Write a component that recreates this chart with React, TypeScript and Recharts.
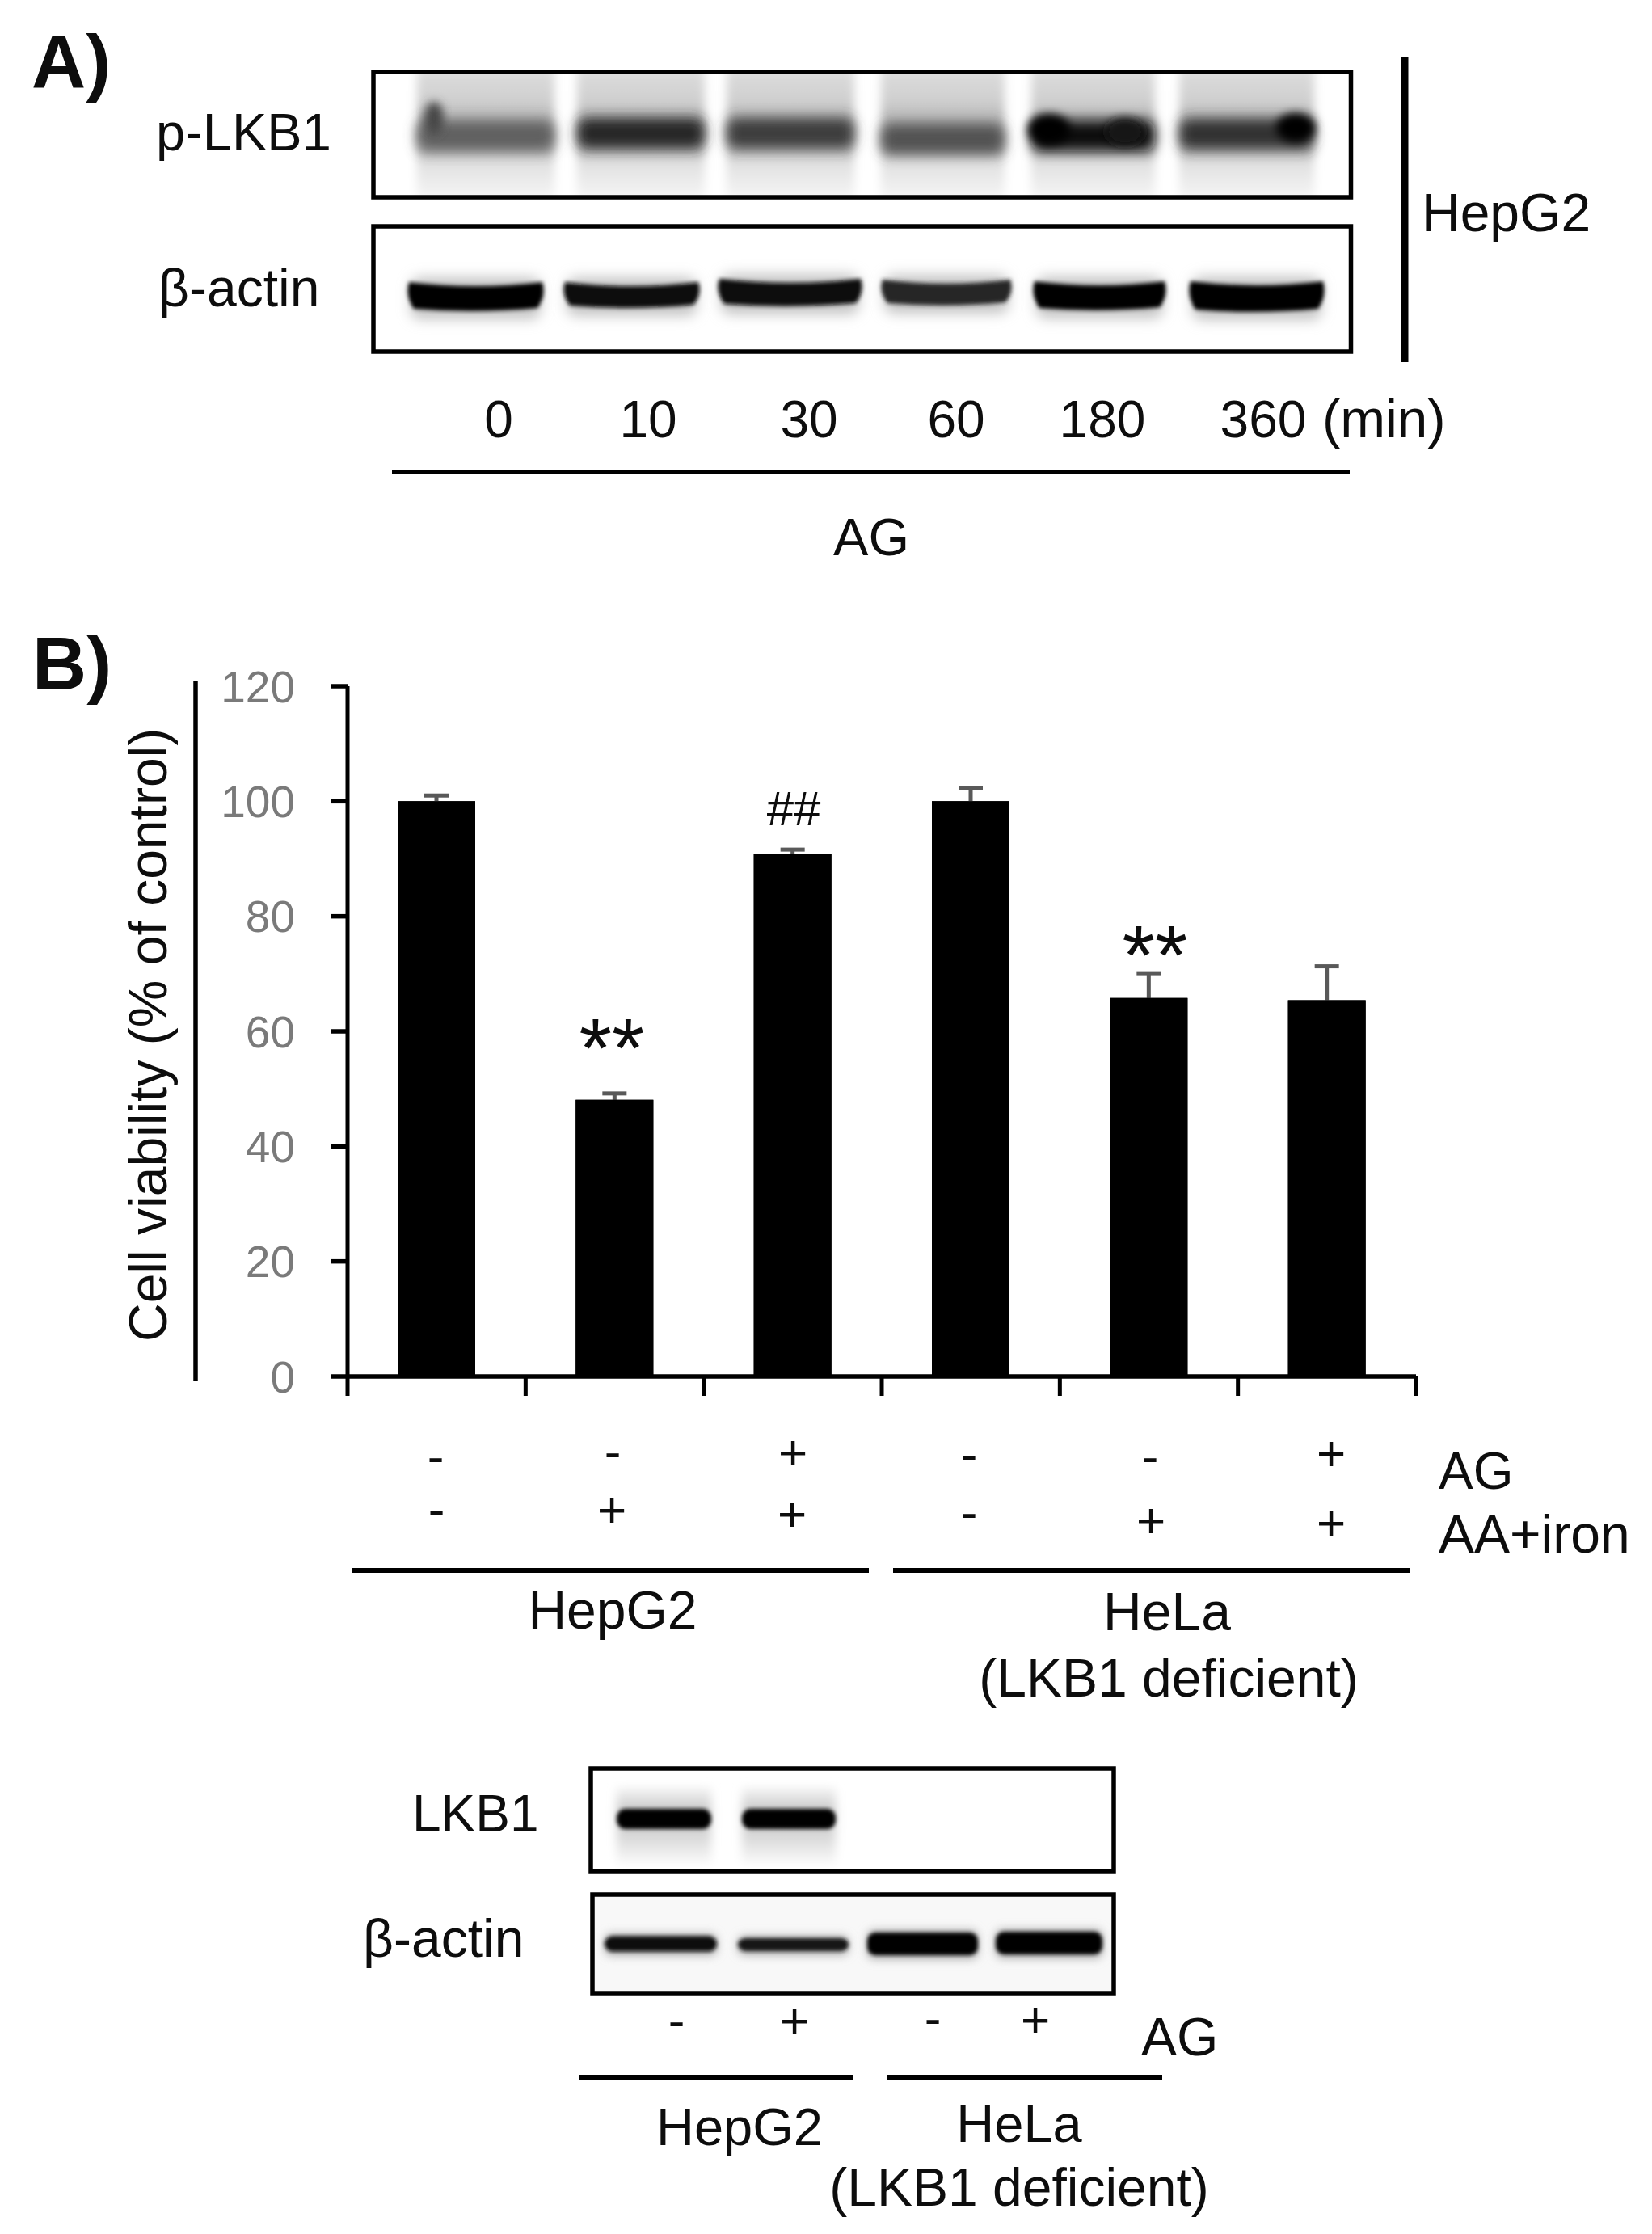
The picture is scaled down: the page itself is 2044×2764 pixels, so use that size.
import React from "react";
import { BarChart, Bar, XAxis, YAxis, ErrorBar } from "recharts";

const FONT = "'Liberation Sans', Arial, sans-serif";
const INK = "#0d0d0d";

// ---- Panel B values
const groups = ["HepG2 -/-", "HepG2 -/+", "HepG2 +/+", "HeLa -/-", "HeLa -/+", "HeLa +/+"];
const viability = [100, 48.1, 90.9, 100, 65.8, 65.4];
const errorUp = [1, 1.1, 0.7, 2.3, 4.3, 5.9];
const yTicks = [0, 20, 40, 60, 80, 100, 120];
const boundaryTicks = [0, 1, 2, 3, 4, 5, 6];
const ag = ["-", "-", "+", "-", "-", "+"];
const aaIron = ["-", "+", "+", "-", "+", "+"];

const chartData = groups.map((g, i) => ({
  group: g,
  pos: i + 0.5,
  viability: viability[i],
  err: errorUp[i],
}));

// ---- Blot band intensities (0..1)
const pLkb1Levels = [0.62, 0.85, 0.76, 0.68, 0.95, 0.8];
const actinALevels = [1, 0.97, 0.97, 0.85, 0.98, 1];
const lkb1Levels = [1, 1];
const actinBLevels = [0.95, 0.9, 1, 1];

// ---- Layout of the drawn blots
const pLkb1Lanes = [[516, 686, 168], [714, 872, 165], [899, 1057, 165], [1090, 1243, 172], [1276, 1429, 168], [1459, 1626, 166]];
const actinALanes = [[504, 673, 366, 34], [697, 866, 364, 30], [888, 1067, 361, 32], [1090, 1252, 361, 30], [1278, 1443, 365, 34], [1471, 1639, 366, 36]];
const lkb1Lanes = [[763, 880], [918, 1034]];
const actinBLanes = [[748, 887, 2405, 19], [913, 1050, 2406, 16], [1073, 1210, 2405, 28], [1232, 1364, 2404, 28]];
const pSpots = [[537, 146, 12, 20, 0.72], [1298, 160, 26, 19, 1], [1392, 163, 24, 17, 0.9], [1603, 158, 24, 18, 1]];

const grey = (l: number) => {
  const v = Math.round(255 * (1 - l));
  return `rgb(${v},${v},${v})`;
};

const smile = (a: number, b: number, c: number, h: number) => {
  const m = (a + b) / 2;
  const top = c - h / 2;
  const bot = c + h / 2;
  return `M${a + 2} ${top + 2} Q${m} ${top + 12} ${b - 2} ${top + 2} Q${b + 3} ${c} ${b - 8} ${bot - 4} Q${m} ${bot + 3} ${a + 8} ${bot - 3} Q${a - 3} ${c} ${a + 2} ${top + 2}Z`;
};

function T({ x, y, size = 64, anchor = "start", weight = 400, fill = INK, children, rotate }: any) {
  return (
    <text
      x={x}
      y={y}
      fontSize={size}
      textAnchor={anchor}
      fontWeight={weight}
      fill={fill}
      fontFamily={FONT}
      transform={rotate ? `rotate(${rotate} ${x} ${y})` : undefined}
    >
      {children}
    </text>
  );
}

function Sign({ x, cy, s, size = 62 }: any) {
  const off = s === "+" ? 0.33 : 0.27;
  return <T x={x} y={cy + size * off} size={size} anchor="middle">{s}</T>;
}

function L({ x1, x2, y, w = 6 }: any) {
  return <line x1={x1} x2={x2} y1={y} y2={y} stroke="#000" strokeWidth={w} />;
}

function Box({ x0, x1, y0, y1 }: any) {
  return <rect x={x0} y={y0} width={x1 - x0} height={y1 - y0} fill="none" stroke="#000" strokeWidth={5.5} />;
}

const row1X = [539, 758, 981, 1199, 1423, 1647];
const row1Y = [1806, 1800, 1798, 1803, 1806, 1799];
const row2X = [540, 757, 980, 1199, 1424, 1647];
const row2Y = [1871, 1869, 1874, 1875, 1882, 1885];

const timeLabels = ["0", "10", "30", "60", "180", "360"];
const timeX = [617, 802, 1001, 1183, 1364, 1563];

const region = { x: "-40%", y: "-300%", width: "180%", height: "700%" };

function Blots() {
  return (
    <svg width={2044} height={2764} style={{ position: "absolute", left: 0, top: 0 }}>
      <defs>
        <filter id="b2" {...region}><feGaussianBlur stdDeviation="2.5" /></filter>
        <filter id="b4" {...region}><feGaussianBlur stdDeviation="6" /></filter>
        <filter id="b6" {...region}><feGaussianBlur stdDeviation="8" /></filter>
        <filter id="b8" {...region}><feGaussianBlur stdDeviation="8" /></filter>
        <linearGradient id="smear" x1="0" x2="0" y1="0" y2="1">
          <stop offset="0" stopColor="#dedede" />
          <stop offset="0.25" stopColor="#cfcfcf" />
          <stop offset="0.42" stopColor="#b0b0b0" />
          <stop offset="0.62" stopColor="#bcbcbc" />
          <stop offset="0.72" stopColor="#e0e0e0" />
          <stop offset="1" stopColor="#f7f7f7" />
        </linearGradient>
        <linearGradient id="smear2" x1="0" x2="0" y1="0" y2="1">
          <stop offset="0" stopColor="#f4f4f4" />
          <stop offset="0.3" stopColor="#c8c8c8" />
          <stop offset="0.62" stopColor="#d8d8d8" />
          <stop offset="1" stopColor="#fcfcfc" />
        </linearGradient>
        <clipPath id="c1"><rect x={462} y={89} width={1210} height={155} /></clipPath>
        <clipPath id="c2"><rect x={462} y={280} width={1210} height={155} /></clipPath>
        <clipPath id="c3"><rect x={732} y={2189} width={645} height={126} /></clipPath>
        <clipPath id="c4"><rect x={733} y={2344} width={644} height={123} /></clipPath>
      </defs>

      {/* Panel A: p-LKB1 */}
      <g clipPath="url(#c1)">
        {pLkb1Lanes.map(([a, b], i) => (
          <rect key={i} x={a} y={84} width={b - a} height={164} fill="url(#smear)" filter="url(#b4)" />
        ))}
        {pLkb1Lanes.map(([a, b, c], i) => (
          <rect key={i} x={a} y={c - 19} width={b - a} height={38} rx={12} fill={grey(pLkb1Levels[i])} filter="url(#b6)" />
        ))}
        {pSpots.map(([x, y, rx, ry, l], i) => (
          <ellipse key={i} cx={x} cy={y} rx={rx} ry={ry} fill={grey(l)} filter="url(#b4)" />
        ))}
      </g>
      <Box x0={462} x1={1671.5} y0={89} y1={244} />

      {/* Panel A: beta-actin */}
      <g clipPath="url(#c2)">
        {actinALanes.map(([a, b, c, h], i) => (
          <rect key={i} x={a + 4} y={c - h / 2 - 6} width={b - a - 8} height={h + 18} rx={12} fill="#c4c4c4" filter="url(#b8)" />
        ))}
        {actinALanes.map(([a, b, c, h], i) => (
          <path key={i} d={smile(a, b, c, h + 4)} fill={grey(actinALevels[i])} filter="url(#b2)" />
        ))}
      </g>
      <Box x0={462} x1={1671.5} y0={280} y1={435} />

      <line x1={1738} x2={1738} y1={70} y2={448} stroke="#000" strokeWidth={9} />
      <T x={1759} y={286} size={66}>HepG2</T>
      <T x={193} y={186} size={65}>p-LKB1</T>
      <T x={196} y={379} size={66}>β-actin</T>
      <T x={39} y={108} size={93} weight={700}>A)</T>
      <T x={40} y={853} size={93} weight={700}>B)</T>

      {timeLabels.map((t, i) => (
        <T key={t} x={timeX[i]} y={541} size={64} anchor="middle">{t}</T>
      ))}
      <T x={1636} y={541} size={67}>(min)</T>
      <L x1={485} x2={1670} y={584} />
      <T x={1078} y={687} size={65} anchor="middle">AG</T>

      {/* Panel B: left rule and title */}
      <line x1={242} x2={242} y1={843} y2={1709} stroke="#000" strokeWidth={5.5} />
      <T x={206} y={1660} size={66} rotate={-90}>Cell viability (% of control)</T>

      {/* significance marks */}
      <T x={757} y={1333} size={104} anchor="middle">**</T>
      <T x={1429} y={1218} size={104} anchor="middle">**</T>
      <T x={982} y={1021} size={60} anchor="middle">##</T>

      {/* treatment rows */}
      {ag.map((s, i) => <Sign key={i} x={row1X[i]} cy={row1Y[i]} s={s} />)}
      {aaIron.map((s, i) => <Sign key={i} x={row2X[i]} cy={row2Y[i]} s={s} />)}
      <T x={1780} y={1842} size={64}>AG</T>
      <T x={1780} y={1921} size={66}>AA+iron</T>
      <L x1={436} x2={1075} y={1943} />
      <L x1={1105} x2={1745} y={1943} />
      <T x={758} y={2015} size={66} anchor="middle">HepG2</T>
      <T x={1444} y={2017} size={66} anchor="middle">HeLa</T>
      <T x={1446} y={2099} size={66} anchor="middle">(LKB1 deficient)</T>

      {/* Lower blots */}
      <g clipPath="url(#c3)">
        {lkb1Lanes.map(([a, b], i) => (
          <rect key={i} x={a} y={2212} width={b - a} height={96} fill="url(#smear2)" filter="url(#b4)" />
        ))}
        {lkb1Lanes.map(([a, b], i) => (
          <rect key={i} x={a} y={2238} width={b - a} height={25} rx={11} fill={grey(lkb1Levels[i])} filter="url(#b2)" />
        ))}
      </g>
      <Box x0={731} x1={1378} y0={2188} y1={2315} />
      <g clipPath="url(#c4)">
        <rect x={733} y={2344} width={644} height={123} fill="#f8f8f8" />
        {actinBLanes.map(([a, b, c, h], i) => (
          <rect key={i} x={a} y={c - h / 2 - 3} width={b - a} height={h + 8} rx={8} fill="#b0b0b0" filter="url(#b4)" />
        ))}
        {actinBLanes.map(([a, b, c, h], i) => (
          <rect key={i} x={a} y={c - h / 2} width={b - a} height={h} rx={10} fill={grey(actinBLevels[i])} filter="url(#b2)" />
        ))}
      </g>
      <Box x0={733} x1={1378} y0={2344} y1={2466} />
      <T x={510} y={2266} size={64}>LKB1</T>
      <T x={449} y={2421} size={66}>β-actin</T>
      <Sign x={837} cy={2504} s="-" />
      <Sign x={983} cy={2501} s="+" />
      <Sign x={1154} cy={2501} s="-" />
      <Sign x={1281} cy={2500} s="+" />
      <T x={1412} y={2543} size={66}>AG</T>
      <L x1={717} x2={1056} y={2570} />
      <L x1={1098} x2={1438} y={2570} />
      <T x={915} y={2654} size={65} anchor="middle">HepG2</T>
      <T x={1261} y={2650} size={65} anchor="middle">HeLa</T>
      <T x={1261} y={2729} size={66} anchor="middle">(LKB1 deficient)</T>
    </svg>
  );
}

export default function App() {
  return (
    <div style={{ position: "absolute", left: 0, top: 0, width: 2044, height: 2764, background: "#fff", overflow: "hidden" }}>
      <Blots />
      {/* Lower layer: axes, bars and error bars */}
      <div style={{ position: "absolute", left: 0, top: 0 }}>
        <BarChart
          width={2044}
          height={2764}
          data={chartData}
          margin={{ top: 849, right: 292, bottom: 0, left: 0 }}
          barSize={96}
        >
          <XAxis
            type="number"
            dataKey="pos"
            domain={[0, 6]}
            ticks={boundaryTicks}
            interval={0}
            height={1061}
            tickSize={24}
            tickFormatter={() => ""}
            axisLine={{ stroke: "#000", strokeWidth: 5.5 }}
            tickLine={{ stroke: "#000", strokeWidth: 5 }}
          />
          <YAxis
            type="number"
            domain={[0, 120]}
            ticks={yTicks}
            interval={0}
            width={430}
            tickSize={20}
            tickMargin={45}
            tick={{ fill: "#7a7a7a", fontSize: 55, fontFamily: FONT }}
            axisLine={{ stroke: "#000", strokeWidth: 5 }}
            tickLine={{ stroke: "#000", strokeWidth: 5.5 }}
          />
          <Bar dataKey="viability" fill="#000" isAnimationActive={false}>
            <ErrorBar dataKey="err" direction="y" width={15} stroke="#595959" strokeWidth={5} isAnimationActive={false} />
          </Bar>
        </BarChart>
      </div>
      {/* Upper layer: the same bars, covering the lower half of each error bar */}
      <div style={{ position: "absolute", left: 0, top: 0 }}>
        <BarChart
          width={2044}
          height={2764}
          data={chartData}
          margin={{ top: 849, right: 292, bottom: 1061, left: 430 }}
          barSize={96}
        >
          <XAxis type="number" dataKey="pos" domain={[0, 6]} hide />
          <YAxis type="number" domain={[0, 120]} hide />
          <Bar dataKey="viability" fill="#000" isAnimationActive={false} />
        </BarChart>
      </div>
    </div>
  );
}
